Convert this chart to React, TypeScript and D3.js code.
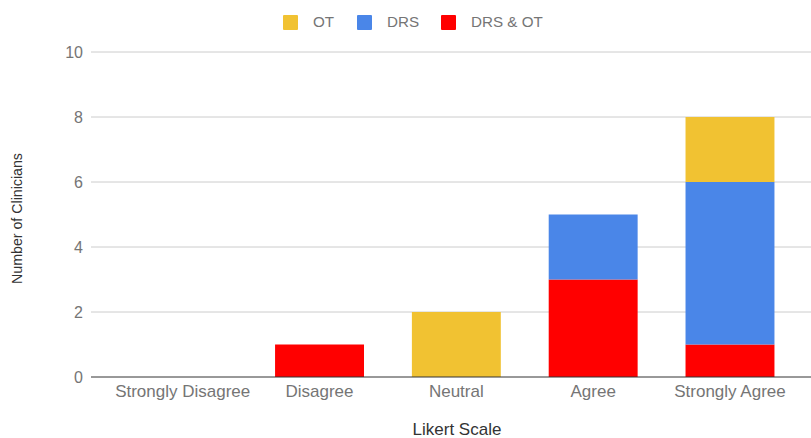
import React from "react";
import * as d3 from "d3";

const categories = ["Strongly Disagree", "Disagree", "Neutral", "Agree", "Strongly Agree"];
const seriesNames = ["DRS & OT", "DRS", "OT"];
const drsOt = [0, 1, 0, 3, 1];
const drs = [0, 0, 0, 2, 5];
const ot = [0, 0, 2, 0, 2];
const yTicks = [0, 2, 4, 6, 8, 10];
const legendOrder = ["OT", "DRS", "DRS & OT"];
const colors: Record<string, string> = { "OT": "#f1c232", "DRS": "#4a86e8", "DRS & OT": "#ff0000" };

const W = 811, H = 438;
const gridLeft = 91, gridRight = 811;
const y0 = 377, y10 = 52;

export default function App() {
  const rows = categories.map((c, i) => ({ cat: c, "DRS & OT": drsOt[i], "DRS": drs[i], "OT": ot[i] }));
  const stack = d3.stack<any>().keys(seriesNames)(rows);
  const x = d3.scaleBand().domain(categories).range([114.3, 798.4]).paddingInner(0.35).paddingOuter(0.175);
  const y = d3.scaleLinear().domain([0, 10]).range([y0, y10]);
  const font = "'Liberation Sans', Arial, sans-serif";
  const legendX = [283, 357, 441];
  return (
    <svg width={W} height={H} style={{ position: "absolute", left: 0, top: 0, background: "#fff" }}>
      {yTicks.map(t => (
        <g key={t}>
          {t !== 0 && <line x1={gridLeft} x2={gridRight} y1={y(t)} y2={y(t)} stroke="#cccccc" strokeWidth={1} />}
          <text x={83} y={y(t)} dy="0.36em" textAnchor="end" fontFamily={font} fontSize={16} fill="#757575">{t}</text>
        </g>
      ))}
      {stack.map(s => (
        <g key={s.key}>
          {s.map((d, i) => d[1] - d[0] > 0 ? (
            <rect key={i} x={x(categories[i])} width={x.bandwidth()} y={y(d[1])} height={y(d[0]) - y(d[1])} fill={colors[s.key]} />
          ) : null)}
        </g>
      ))}
      <line x1={gridLeft} x2={gridRight} y1={y0} y2={y0} stroke="#333333" strokeWidth={1} />
      {categories.map(c => (
        <text key={c} x={(x(c) as number) + x.bandwidth() / 2} y={397} textAnchor="middle" fontFamily={font} fontSize={17} fill="#757575">{c}</text>
      ))}
      <text x={457} y={435} textAnchor="middle" fontFamily={font} fontSize={17} fill="#333333">Likert Scale</text>
      <text transform={`translate(22,218.5) rotate(-90)`} textAnchor="middle" fontFamily={font} fontSize={14.2} fill="#333333">Number of Clinicians</text>
      {legendOrder.map((k, i) => (
        <g key={k}>
          <rect x={legendX[i]} y={15} width={15} height={15} rx={1} fill={colors[k]} />
          <text x={legendX[i] + 30} y={27} fontFamily={font} fontSize={15.2} fill="#757575">{k}</text>
        </g>
      ))}
    </svg>
  );
}
